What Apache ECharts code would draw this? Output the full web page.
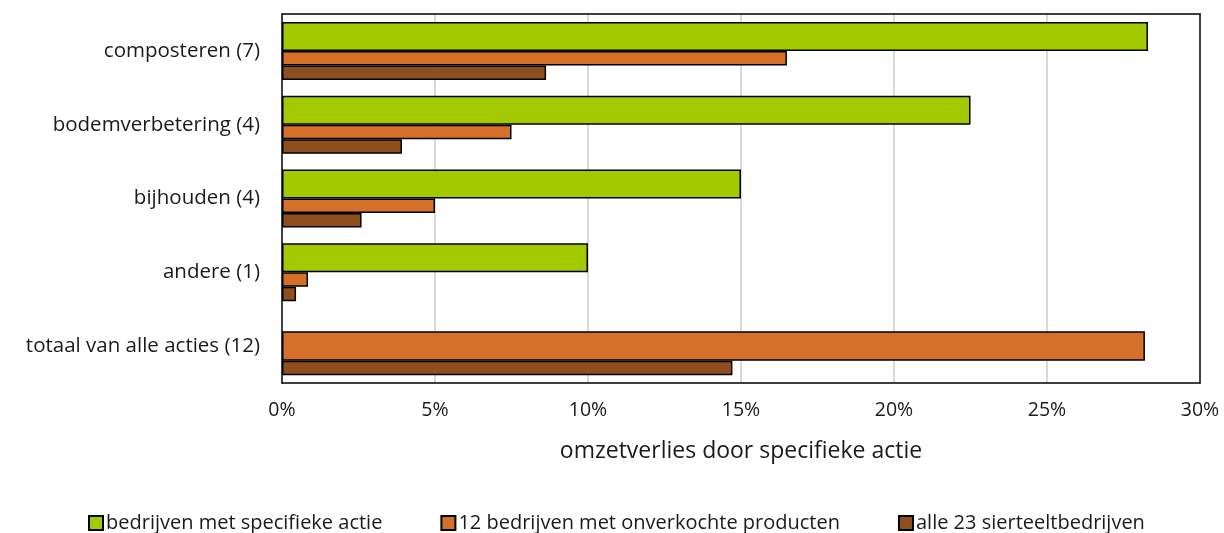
<!DOCTYPE html>
<html>
<head>
<meta charset="utf-8">
<script src="https://cdn.jsdelivr.net/npm/echarts@6/dist/echarts.min.js"></script>
<style>
html,body{margin:0;padding:0;background:#fff;}
#chart{width:1224px;height:533px;}
</style>
</head>
<body>
<div id="chart"></div>
<script>
const categories = ['composteren (7)', 'bodemverbetering (4)', 'bijhouden (4)', 'andere (1)', 'totaal van alle acties (12)'];
const seriesNames = ['bedrijven met specifieke actie', '12 bedrijven met onverkochte producten', 'alle 23 sierteeltbedrijven'];
const greenValues = [28.3, 22.5, 15.0, 10.0, null];
const orangeValues = [16.5, 7.5, 5.0, 0.85, 28.2];
const brownValues = [8.63, 3.92, 2.6, 0.46, 14.72];
const xTicks = [0, 5, 10, 15, 20, 25, 30];

const colors = ['#A3C900', '#D4702A', '#8F4E1E'];
const FONT = 'Open Sans';
const TXT = '#1a1a1a';
const totalIdx = categories.length - 1;

const mainOnly = arr => arr.map((v, i) => (i === totalIdx || v == null) ? '-' : v);
const totalOnly = arr => arr.map((v, i) => (i === totalIdx && v != null) ? v : '-');

const barStyle = c => ({ color: c, borderColor: '#000', borderWidth: 1.5 });
const borderLine = { show: true, onZero: false, lineStyle: { color: '#000', width: 1.5 } };

const chart = echarts.init(document.getElementById('chart'), null, { renderer: 'canvas' });
chart.setOption({
  animation: false,
  backgroundColor: '#fff',
  textStyle: { fontFamily: FONT },
  grid: { left: 282, top: 14, right: 24, bottom: 150 },
  legend: {
    data: seriesNames,
    top: 513,
    left: 88,
    padding: 0,
    icon: 'rect',
    itemWidth: 14,
    itemHeight: 14,
    itemGap: 58,
    textStyle: { fontFamily: FONT, fontSize: 20, color: TXT, padding: [0, 0, 0, -2] }
  },
  xAxis: [
    {
      type: 'value',
      min: xTicks[0],
      max: xTicks[xTicks.length - 1],
      interval: xTicks[1] - xTicks[0],
      name: 'omzetverlies door specifieke actie',
      nameLocation: 'middle',
      nameGap: 57,
      nameTextStyle: { fontFamily: FONT, fontSize: 23, color: TXT },
      axisLine: borderLine,
      axisTick: { show: false },
      axisLabel: { formatter: '{value}%', fontFamily: FONT, fontSize: 19.5, color: TXT, margin: 17 },
      splitLine: { show: true, showMinLine: false, showMaxLine: false, lineStyle: { color: '#d9d9d9', width: 2 } }
    },
    {
      type: 'value', position: 'top',
      min: xTicks[0], max: xTicks[xTicks.length - 1], interval: xTicks[1] - xTicks[0],
      axisLine: borderLine, axisTick: { show: false }, axisLabel: { show: false }, splitLine: { show: false }
    }
  ],
  yAxis: [
    {
      type: 'category', data: categories, inverse: true,
      axisLine: borderLine, axisTick: { show: false },
      axisLabel: { fontFamily: FONT, fontSize: 20.5, color: TXT, margin: 22 }
    },
    {
      type: 'category', data: categories, inverse: true, position: 'right',
      axisLine: borderLine, axisTick: { show: false }, axisLabel: { show: false }, splitLine: { show: false }
    }
  ],
  series: [
    { name: seriesNames[0], type: 'bar', yAxisIndex: 0, barWidth: 29, barGap: '0%', data: mainOnly(greenValues), itemStyle: barStyle(colors[0]) },
    { name: seriesNames[1], type: 'bar', yAxisIndex: 0, barWidth: 14.5, barGap: '0%', data: mainOnly(orangeValues), itemStyle: barStyle(colors[1]) },
    { name: seriesNames[2], type: 'bar', yAxisIndex: 0, barWidth: 14.5, barGap: '0%', data: mainOnly(brownValues), itemStyle: barStyle(colors[2]) },
    { name: '_spacer', type: 'bar', yAxisIndex: 1, barWidth: 14.5, barGap: '0%', data: categories.map(() => '-'), itemStyle: { color: 'transparent' } },
    { name: seriesNames[1], type: 'bar', yAxisIndex: 1, barWidth: 29.5, barGap: '0%', data: totalOnly(orangeValues), itemStyle: barStyle(colors[1]) },
    { name: seriesNames[2], type: 'bar', yAxisIndex: 1, barWidth: 14.5, barGap: '0%', data: totalOnly(brownValues), itemStyle: barStyle(colors[2]) }
  ]
});
</script>
</body>
</html>
